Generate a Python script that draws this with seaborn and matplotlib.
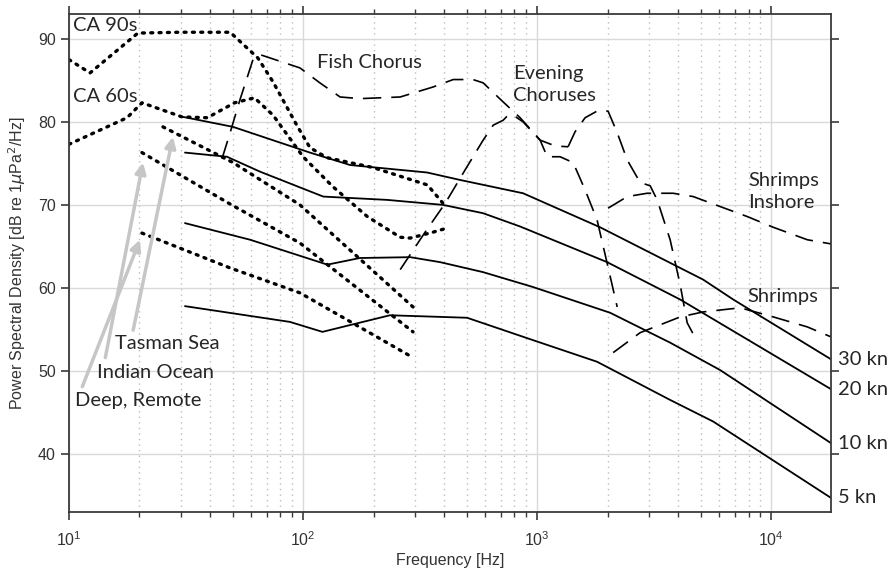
import matplotlib
matplotlib.use("Agg")
import matplotlib.pyplot as plt
import seaborn as sns

# --- solid: wind-driven noise curves (Hz, dB) ---
kn30_f = [30.7, 50.2, 107, 159, 339, 469, 871, 1858, 5117, 6883, 18000]
kn30_db = [80.6, 79.4, 76.3, 74.8, 73.9, 73.0, 71.4, 67.3, 61.0, 58.6, 51.4]
kn20_f = [31.3, 47.3, 65.5, 122, 229, 396, 587, 845, 1991, 4083, 18000]
kn20_db = [76.3, 75.8, 74.0, 71.0, 70.6, 70.0, 69.0, 67.4, 63.1, 58.6, 47.8]
kn10_f = [31.3, 59.4, 127, 175, 287, 385, 587, 961, 2051, 3700, 6050, 18000]
kn10_db = [67.8, 65.8, 62.8, 63.6, 63.7, 63.1, 61.9, 60.1, 57.0, 53.4, 50.1, 41.3]
kn5_f = [31.3, 87.9, 121, 235, 502, 961, 1803, 3700, 5650, 18000]
kn5_db = [57.8, 55.9, 54.7, 56.7, 56.4, 53.7, 51.1, 46.5, 43.9, 34.7]
wind_labels = ["30 kn", "20 kn", "10 kn", "5 kn"]

# --- dotted: measured spectra ---
ca90_f = [10, 12.3, 19.7, 29.8, 48.8, 64.1, 74.5, 94, 107, 126, 199, 340, 396]
ca90_db = [87.5, 85.9, 90.7, 90.8, 90.8, 87.7, 84.8, 79.6, 76.9, 75.7, 74.5, 72.4, 70.2]
ca60_f = [10, 17.7, 20.5, 30.4, 39, 51, 62, 74.5, 100, 134, 188, 260, 287, 358, 412]
ca60_db = [77.3, 80.5, 82.3, 80.6, 80.5, 82.3, 82.9, 80.8, 75.8, 72.2, 68.6, 66.1, 66.0, 66.7, 67.2]
tasman_f = [25.2, 50.2, 97, 295]
tasman_db = [79.4, 75.1, 70.0, 57.7]
indian_f = [20.5, 48.8, 97, 295]
indian_db = [76.3, 70.1, 65.4, 54.7]
deep_f = [20.5, 48.8, 97, 295]
deep_db = [66.6, 62.4, 59.4, 51.6]

# --- dashed: biological choruses ---
fish_f = [45.1, 48.8, 53.8, 61.1, 65.5, 72.3, 97, 118, 144, 175, 260, 359, 438,
          532, 588, 716, 846, 1030, 1194, 1356]
fish_db = [75.6, 78.7, 82.7, 87.5, 88.1, 87.7, 86.5, 84.7, 83.0, 82.8, 83.0, 84.2, 85.1,
           85.1, 84.7, 82.4, 80.5, 77.8, 77.1, 77.0]
eve2_f = [1356, 1452, 1603, 1803, 2009, 2198, 2427, 2754, 3040, 3258, 3700, 4083, 4375, 4732]
eve2_db = [77.0, 78.8, 80.5, 81.3, 81.3, 78.7, 75.4, 72.7, 72.3, 70.6, 65.8, 60.4, 55.8, 54.0]
eve1_f = [260, 332, 405, 492, 588, 649, 716, 745, 782, 871, 1030, 1104, 1253, 1425,
          1603, 1803, 2009, 2198]
eve1_db = [62.2, 66.7, 70.2, 74.2, 77.8, 79.6, 80.2, 80.7, 80.9, 80.0, 77.8, 75.8, 75.8, 75.1,
           71.8, 68.2, 62.5, 57.7]
shr_in_f = [2009, 2427, 2951, 3812, 4645, 6050, 7889, 10210, 14260, 18000]
shr_in_db = [69.6, 71.0, 71.4, 71.4, 71.0, 69.8, 68.6, 67.3, 65.8, 65.3]
shr_f = [2113, 2754, 4083, 5117, 7379, 10210, 14260, 18000]
shr_db = [52.2, 54.6, 56.5, 57.1, 57.6, 56.5, 55.3, 54.1]

# arrows: (tail f, tail dB, head f, head dB)
arrows = {
    "Tasman Sea": (18.8, 54.9, 27.8, 78.2),
    "Indian Ocean": (14.3, 51.6, 20.7, 75.1),
    "Deep, Remote": (11.4, 48.1, 20.1, 65.8),
}
arrow_text_pos = {"Tasman Sea": (15.7, 53.3), "Indian Ocean": (13.2, 49.8),
                  "Deep, Remote": (10.6, 46.4)}

sns.set_theme(style="white")
plt.rcParams["font.family"] = ["Liberation Sans", "DejaVu Sans"]
ANNOT_FONT = "Lato"

fig = plt.figure(figsize=(8.96, 5.73), dpi=100)
ax = fig.add_axes([0.0770, 0.1065, 0.8504, 0.8691])
ax.set_xscale("log")

solid = dict(color="black", lw=1.3, estimator=None, sort=False, legend=False)
for f, db in [(kn30_f, kn30_db), (kn20_f, kn20_db), (kn10_f, kn10_db), (kn5_f, kn5_db)]:
    sns.lineplot(x=f, y=db, ax=ax, **solid)

dotted = dict(color="black", lw=2.4, estimator=None, sort=False, legend=False,
              linestyle=(0, (0.6, 1.9)), dash_capstyle="round")
for f, db in [(ca90_f, ca90_db), (ca60_f, ca60_db), (tasman_f, tasman_db),
              (indian_f, indian_db), (deep_f, deep_db)]:
    sns.lineplot(x=f, y=db, ax=ax, **dotted)

dashed = dict(color="black", lw=1.2, estimator=None, sort=False, legend=False,
              linestyle=(0, (11, 6)))
for f, db in [(fish_f, fish_db), (eve2_f, eve2_db), (eve1_f, eve1_db),
              (shr_in_f, shr_in_db), (shr_f, shr_db)]:
    sns.lineplot(x=f, y=db, ax=ax, **dashed)

ax.set_xlim(10, 18000)
ax.set_ylim(33, 93)
ax.set_yticks([40, 50, 60, 70, 80, 90])

ax.grid(which="major", color="#d9d9d9", lw=1.0, ls="-")
ax.grid(which="minor", axis="x", color="#bdbdbd", lw=1.0, ls=(0, (1, 3)))
ax.set_axisbelow(True)
for s in ax.spines.values():
    s.set_color("#3a3a3a")
    s.set_linewidth(1.3)
ax.tick_params(which="both", direction="out", top=True, right=True, bottom=True, left=True,
               labeltop=False, labelright=False, colors="#3a3a3a", labelcolor="#333333",
               labelsize=11.5)
ax.tick_params(which="major", length=6, width=1.2)
ax.tick_params(which="minor", length=3.5, width=1.0)
ax.tick_params(axis="x", which="major", pad=7)

ax.set_xlabel("Frequency [Hz]", fontsize=11.5, color="#333333", labelpad=3)
ax.set_ylabel(r"Power Spectral Density [dB re 1$\mu$Pa$^2$/Hz]", fontsize=11.5,
              color="#333333", labelpad=7)

# gray arrows with labels
for name, (tf, tdb, hf, hdb) in arrows.items():
    ax.annotate("", xy=(hf, hdb), xytext=(tf, tdb),
                arrowprops=dict(arrowstyle="-|>", color="#c6c6c6", lw=2.5,
                                mutation_scale=16, shrinkA=0, shrinkB=0))
    px, py = arrow_text_pos[name]
    ax.text(px, py, name, fontsize=14.5, family=ANNOT_FONT, va="center", ha="left")

tfont = dict(fontsize=14.5, family=ANNOT_FONT, va="center", ha="left")
ax.text(10.4, 91.6, "CA 90s", **tfont)
ax.text(10.4, 83.0, "CA 60s", **tfont)
ax.text(115, 87.2, "Fish Chorus", **tfont)
ax.text(789, 84.5, "Evening\nChoruses", linespacing=1.4, **tfont)
ax.text(7980, 71.6, "Shrimps\nInshore", linespacing=1.4, **tfont)
ax.text(7900, 59.0, "Shrimps", **tfont)

for lab, db in zip(wind_labels, [kn30_db, kn20_db, kn10_db, kn5_db]):
    ax.text(19300, db[-1], lab, clip_on=False, **tfont)

fig.savefig("out.png", dpi=100)
